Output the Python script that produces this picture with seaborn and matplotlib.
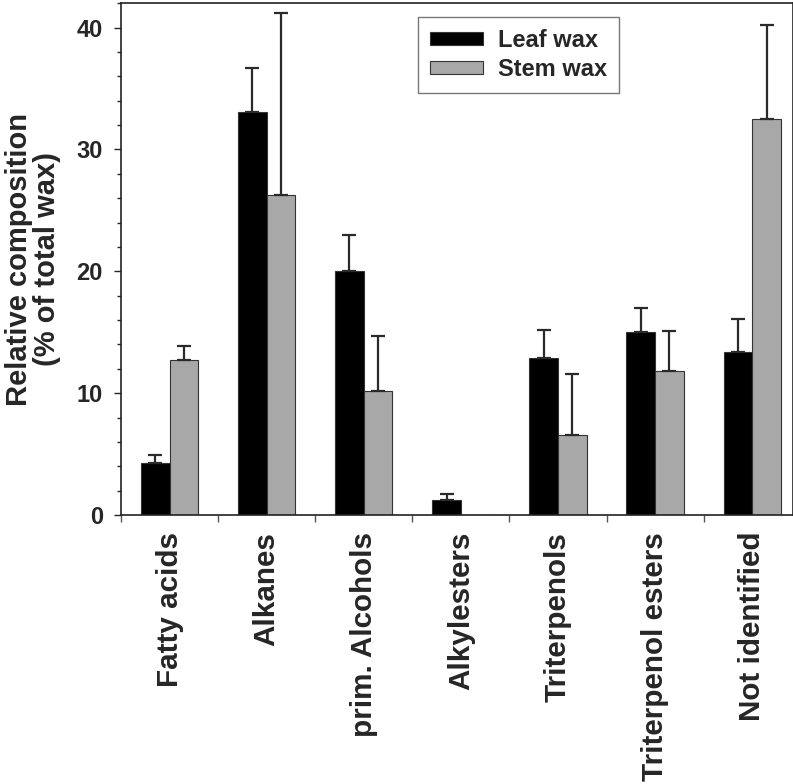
import matplotlib
matplotlib.use("Agg")
import matplotlib.pyplot as plt
from matplotlib.ticker import MultipleLocator, FixedLocator
import pandas as pd
import numpy as np
import seaborn as sns

categories = ["Fatty acids", "Alkanes", "prim. Alcohols", "Alkylesters",
              "Triterpenols", "Triterpenol esters", "Not identified"]
leaf = [4.3, 33.1, 20.0, 1.2, 12.9, 15.0, 13.4]
leaf_err = [0.6, 3.6, 3.0, 0.5, 2.3, 2.0, 2.7]
stem = [12.7, 26.3, 10.2, 0.0, 6.6, 11.8, 32.5]
stem_err = [1.2, 14.9, 4.5, 0.0, 5.0, 3.3, 7.7]

df = pd.DataFrame({
    "category": categories * 2,
    "value": leaf + stem,
    "wax": ["Leaf wax"] * len(categories) + ["Stem wax"] * len(categories),
})

sns.set_style("ticks")
plt.rcParams["font.family"] = ["Liberation Sans", "DejaVu Sans"]
plt.rcParams["font.weight"] = "bold"

fig = plt.figure(figsize=(7.93, 7.84), dpi=100)
ax = fig.add_axes([0.1526, 0.343, 0.8474, 0.653])

width = 0.59
sns.barplot(data=df, x="category", y="value", hue="wax", order=categories,
            palette={"Leaf wax": "#000000", "Stem wax": "#a8a8a8"},
            width=width, errorbar=None, edgecolor="#333333", linewidth=0.8,
            ax=ax)

# upward-only error bars
off = width / 4
x = np.arange(len(categories))
for xs, vals, errs in [(x - off, leaf, leaf_err), (x + off, stem, stem_err)]:
    vals = np.array(vals)
    errs = np.array(errs)
    m = errs > 0
    ax.errorbar(xs[m], vals[m], yerr=[np.zeros(m.sum()), errs[m]], fmt="none",
                ecolor="#2a2a2a", elinewidth=1.6, capsize=5, capthick=1.6)

ax.set_xlim(-0.5, 6.42)
ax.set_ylim(0, 42)
ax.yaxis.set_major_locator(FixedLocator([0, 10, 20, 30, 40]))
ax.yaxis.set_minor_locator(MultipleLocator(2))
ax.xaxis.set_major_locator(FixedLocator(x))
ax.xaxis.set_minor_locator(FixedLocator(np.arange(-0.5, 7, 1)))
ax.set_xticklabels(categories, rotation=90, fontsize=21.3, fontweight="bold")
ax.tick_params(axis="x", which="major", length=0, pad=12)
ax.tick_params(axis="x", which="minor", length=5, width=1, color="#555555")
ax.tick_params(axis="y", which="major", length=5, width=1, labelsize=17, pad=8)
ax.tick_params(axis="y", which="minor", length=3, width=1)
for lab in ax.get_yticklabels():
    lab.set_fontweight("bold")

ax.set_xlabel("")
ax.set_ylabel("Relative composition\n(% of total wax)", fontsize=21,
              fontweight="bold", labelpad=11, linespacing=1.0)

for s in ["top", "left", "bottom", "right"]:
    ax.spines[s].set_visible(True)
    ax.spines[s].set_linewidth(1.2)
    ax.spines[s].set_color("#222222")

handles, labels = ax.get_legend_handles_labels()
leg = ax.legend(handles, labels, loc="upper left", bbox_to_anchor=(0.442, 0.973),
                borderaxespad=0, frameon=True, fancybox=False, edgecolor="#555555",
                handlelength=2.25, handleheight=0.47, prop={"size": 17, "weight": "bold"},
                borderpad=0.5, labelspacing=0.27, handletextpad=0.64)
leg.get_frame().set_linewidth(1.0)

fig.savefig("out.png", dpi=100)
